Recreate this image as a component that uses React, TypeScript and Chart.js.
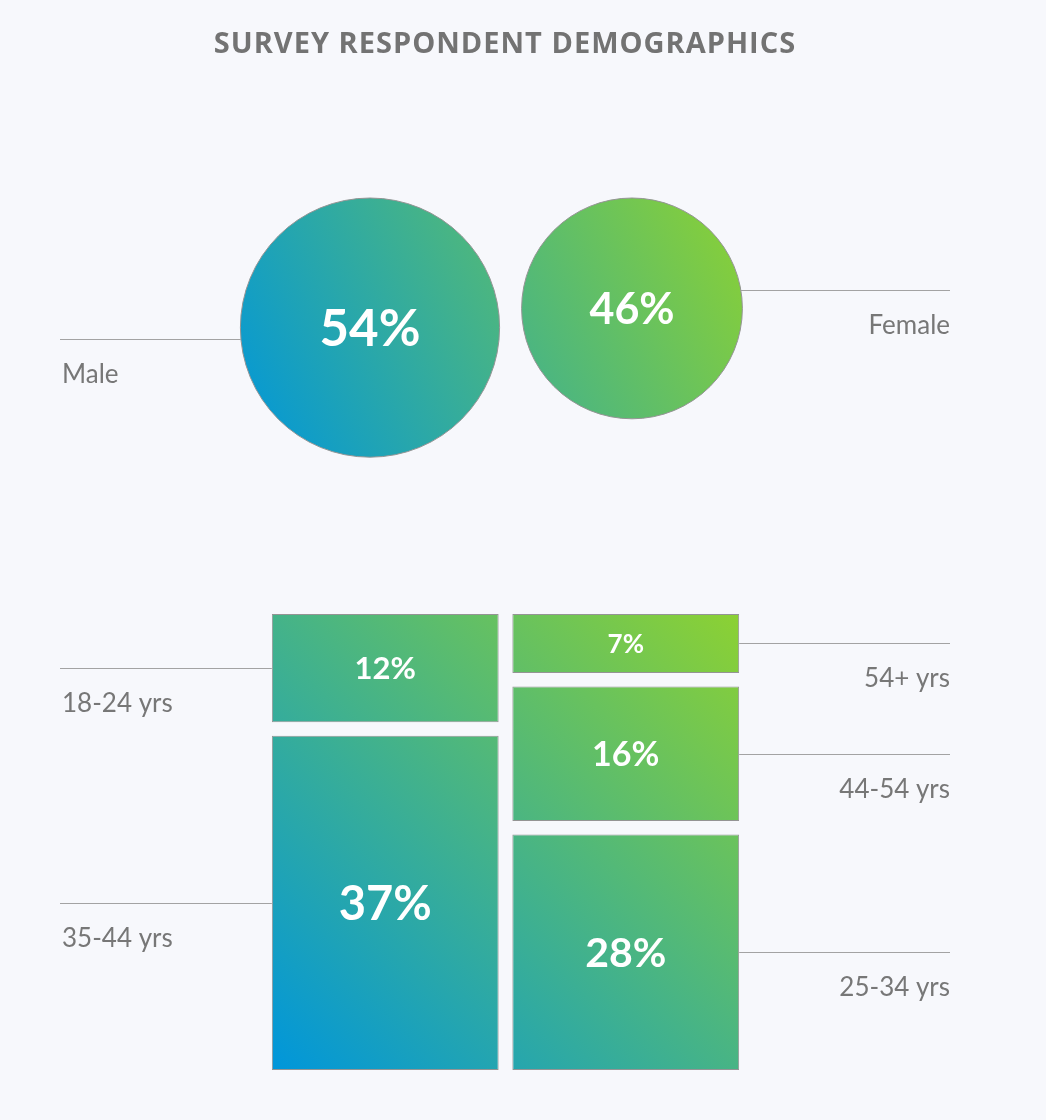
import React, { useEffect, useRef } from 'react';
import { Chart, registerables } from 'chart.js';

Chart.register(...registerables);

// ---------- data ----------
const TITLE = 'SURVEY RESPONDENT DEMOGRAPHICS';
const genderLabels = ['Male', 'Female'];
const genderValues = [54, 46];
const maleAgeLabels = ['35-44 yrs', '18-24 yrs'];
const maleAgeValues = [37, 12];
const femaleAgeLabels = ['25-34 yrs', '44-54 yrs', '54+ yrs'];
const femaleAgeValues = [28, 16, 7];

// ---------- style / layout ----------
const BG = '#F7F8FC';
const BLUE = '#0096DB';
const GREEN = '#8CD133';
const TITLE_GRAY = '#737373';
const TEXT_GRAY = '#777777';
const LINE_GRAY = '#A3A3A3';
const EDGE_GRAY = '#949494';
const LINE_LEFT = 60;
const LINE_RIGHT = 950;
const LABEL_DROP = 43;
const LABEL_FONT = '26px Lato, "Noto Sans", sans-serif';
const PCT_FAMILY = 'Lato, "Noto Sans", sans-serif';
const CAP = 0.36;

const W = 1046;
const TOP_H = 540;
const TOP_PAD_TOP = 198;
const TOP_PLOT_H = 240;
const BUBBLE_MAX = 100;
const RADIUS_PER_UNIT = TOP_PLOT_H / BUBBLE_MAX; // px per percentage point
const BOT_H = 580;
const BOT_PAD_TOP = 74;
const BOT_PAD_BOTTOM = 50;
const PLOT_H = BOT_H - BOT_PAD_TOP - BOT_PAD_BOTTOM;
const GAP_PX = 13.5;
const BAR_PCT = 0.943;

if (typeof document !== 'undefined') {
  document.body.style.margin = '0';
  document.body.style.background = BG;
}

function floating(values: number[]) {
  const total = values.reduce((a, b) => a + b, 0);
  const n = values.length;
  const gap = (GAP_PX * total) / (PLOT_H - GAP_PX * (n - 1));
  let start = 0;
  const segs = values.map((v) => {
    const s: [number, number] = [start, start + v];
    start += v + gap;
    return s;
  });
  return { segs, max: start - gap };
}

function circleGradient(chart: any) {
  const { chartArea, scales } = chart;
  if (!chartArea || !scales.x || !scales.y) return BLUE;
  const x = scales.x;
  const y = scales.y;
  const r0 = genderValues[0] * RADIUS_PER_UNIT;
  const r1 = genderValues[1] * RADIUS_PER_UNIT;
  const g = chart.ctx.createLinearGradient(
    x.getPixelForValue(0) - r0,
    y.getPixelForValue(genderValues[0]) + r0,
    x.getPixelForValue(1) + r1,
    y.getPixelForValue(genderValues[1]) - r1
  );
  g.addColorStop(0, BLUE);
  g.addColorStop(1, GREEN);
  return g;
}

function barGradient(chart: any) {
  const { chartArea, scales } = chart;
  if (!chartArea || !scales.x) return BLUE;
  const x = scales.x;
  const half = ((x.getPixelForValue(1) - x.getPixelForValue(0)) * BAR_PCT) / 2;
  const g = chart.ctx.createLinearGradient(
    x.getPixelForValue(0) - half,
    chartArea.bottom,
    x.getPixelForValue(1) + half,
    chartArea.top
  );
  g.addColorStop(0, BLUE);
  g.addColorStop(1, GREEN);
  return g;
}

const topDecor = {
  id: 'topDecor',
  afterDatasetsDraw(chart: any) {
    const c = chart.ctx;
    c.save();
    c.fillStyle = TITLE_GRAY;
    c.font = 'bold 29px "Open Sans", sans-serif';
    (c as any).letterSpacing = '1px';
    c.textAlign = 'center';
    c.textBaseline = 'alphabetic';
    c.fillText(TITLE, (LINE_LEFT + LINE_RIGHT) / 2, 53);
    (c as any).letterSpacing = '0px';

    const meta = chart.getDatasetMeta(0);
    meta.data.forEach((el: any, i: number) => {
      const r = genderValues[i] * RADIUS_PER_UNIT;
      const { x, y } = el;
      const fs = Math.round(r * 0.39);
      c.fillStyle = '#ffffff';
      c.font = `bold ${fs}px ${PCT_FAMILY}`;
      c.textAlign = 'center';
      c.fillText(genderValues[i] + '%', x, y + fs * CAP);

      const dy = i === 0 ? 11 : -18;
      const ly = Math.round(y + dy) + 0.5;
      const dx = Math.sqrt(Math.max(0, r * r - dy * dy));
      c.strokeStyle = LINE_GRAY;
      c.lineWidth = 1;
      c.beginPath();
      if (i === 0) {
        c.moveTo(LINE_LEFT, ly);
        c.lineTo(x - dx, ly);
      } else {
        c.moveTo(x + dx, ly);
        c.lineTo(LINE_RIGHT, ly);
      }
      c.stroke();
      c.fillStyle = TEXT_GRAY;
      c.font = LABEL_FONT;
      c.textAlign = i === 0 ? 'left' : 'right';
      c.fillText(genderLabels[i], i === 0 ? LINE_LEFT + 2 : LINE_RIGHT, ly + LABEL_DROP);
    });
    c.restore();
  },
};

type Seg = { gender: number; label: string; value: number; range: [number, number]; axis: string };

const male = floating(maleAgeValues);
const female = floating(femaleAgeValues);
const segments: Seg[] = [
  ...maleAgeValues.map((v, i) => ({ gender: 0, label: maleAgeLabels[i], value: v, range: male.segs[i], axis: 'yM' })),
  ...femaleAgeValues.map((v, i) => ({ gender: 1, label: femaleAgeLabels[i], value: v, range: female.segs[i], axis: 'yF' })),
];

const bottomDecor = {
  id: 'bottomDecor',
  afterDatasetsDraw(chart: any) {
    const c = chart.ctx;
    c.save();
    segments.forEach((s, i) => {
      const el: any = chart.getDatasetMeta(i).data[s.gender];
      if (!el) return;
      const top = Math.min(el.y, el.base);
      const bottom = Math.max(el.y, el.base);
      const cy = (top + bottom) / 2;
      const h = bottom - top;
      const fs = Math.round((9.4 + 1.92 * Math.sqrt(h)) * 1.06);
      c.fillStyle = '#ffffff';
      c.font = `bold ${fs}px ${PCT_FAMILY}`;
      c.textAlign = 'center';
      c.textBaseline = 'alphabetic';
      c.fillText(s.value + '%', el.x, cy + fs * CAP);

      const ly = Math.round(cy) + 0.5;
      c.strokeStyle = LINE_GRAY;
      c.lineWidth = 1;
      c.beginPath();
      if (s.gender === 0) {
        c.moveTo(LINE_LEFT, ly);
        c.lineTo(el.x - el.width / 2, ly);
      } else {
        c.moveTo(el.x + el.width / 2, ly);
        c.lineTo(LINE_RIGHT, ly);
      }
      c.stroke();
      c.fillStyle = TEXT_GRAY;
      c.font = LABEL_FONT;
      c.textAlign = s.gender === 0 ? 'left' : 'right';
      c.fillText(s.label, s.gender === 0 ? LINE_LEFT + 2 : LINE_RIGHT, ly + LABEL_DROP);
    });
    c.restore();
  },
};

export default function App() {
  const topRef = useRef<HTMLCanvasElement>(null);
  const botRef = useRef<HTMLCanvasElement>(null);

  useEffect(() => {
    document.body.style.margin = '0';
    document.body.style.background = BG;

    const c1 = new Chart(topRef.current as HTMLCanvasElement, {
      type: 'bubble',
      data: {
        datasets: [
          {
            data: genderValues.map((v, i) => ({ x: i, y: v, r: v * RADIUS_PER_UNIT })),
            backgroundColor: (ctx: any) => circleGradient(ctx.chart),
            borderColor: EDGE_GRAY,
            borderWidth: 1,
            hoverRadius: 0,
            clip: false,
          } as any,
        ],
      },
      options: {
        responsive: true,
        maintainAspectRatio: false,
        animation: false,
        events: [],
        layout: {
          autoPadding: false,
          padding: { left: 239, right: W - 763, top: TOP_PAD_TOP, bottom: TOP_H - TOP_PAD_TOP - TOP_PLOT_H },
        },
        scales: {
          x: { type: 'linear', display: false, min: -0.5, max: genderLabels.length - 0.5 },
          y: { type: 'linear', display: false, min: 0, max: BUBBLE_MAX, reverse: true },
        },
        plugins: { legend: { display: false }, tooltip: { enabled: false } },
      },
      plugins: [topDecor],
    });

    const c2 = new Chart(botRef.current as HTMLCanvasElement, {
      type: 'bar',
      data: {
        labels: genderLabels,
        datasets: segments.map((s) => ({
          label: s.label,
          data: s.gender === 0 ? [s.range, null] : [null, s.range],
          yAxisID: s.axis,
          grouped: false,
          backgroundColor: (ctx: any) => barGradient(ctx.chart),
          borderColor: EDGE_GRAY,
          borderWidth: 1,
          borderSkipped: false,
          barPercentage: BAR_PCT,
          categoryPercentage: 1,
        })) as any,
      },
      options: {
        responsive: true,
        maintainAspectRatio: false,
        animation: false,
        events: [],
        layout: { autoPadding: false, padding: { left: 265, right: W - 746, top: BOT_PAD_TOP, bottom: BOT_PAD_BOTTOM } },
        scales: {
          x: { type: 'category', display: false, offset: true },
          yM: { type: 'linear', display: false, min: 0, max: male.max },
          yF: { type: 'linear', display: false, min: 0, max: female.max },
        },
        plugins: { legend: { display: false }, tooltip: { enabled: false } },
      },
      plugins: [bottomDecor],
    });

    return () => {
      c1.destroy();
      c2.destroy();
    };
  }, []);

  return (
    <div style={{ width: W, height: TOP_H + BOT_H, background: BG }}>
      <div style={{ position: 'relative', width: W, height: TOP_H }}>
        <canvas ref={topRef} />
      </div>
      <div style={{ position: 'relative', width: W, height: BOT_H }}>
        <canvas ref={botRef} />
      </div>
    </div>
  );
}
